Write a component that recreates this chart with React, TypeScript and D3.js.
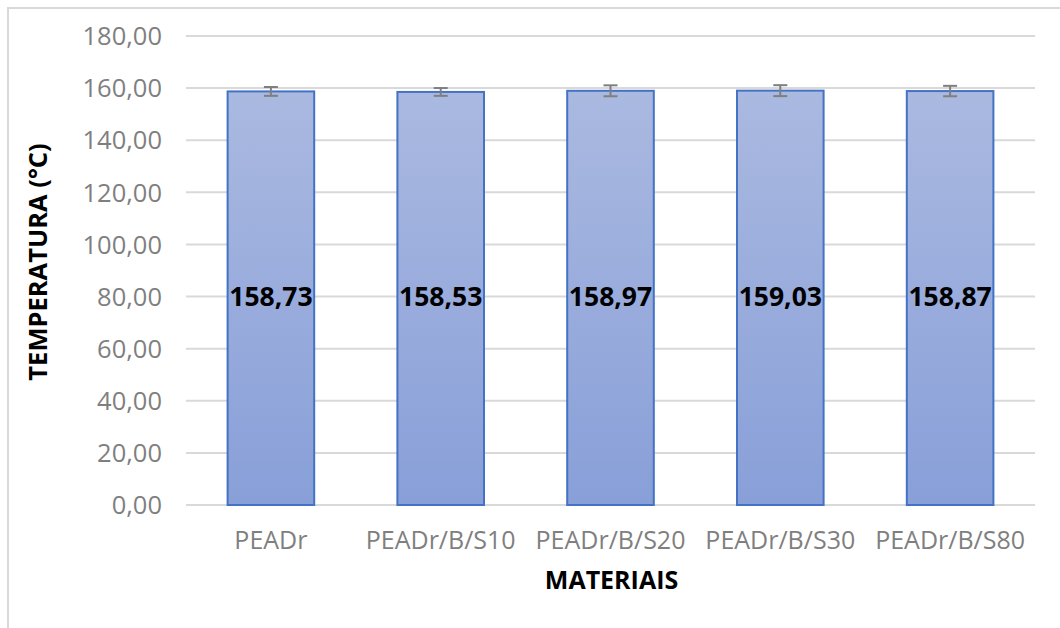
import React from "react";
import * as d3 from "d3";

const categories = ["PEADr", "PEADr/B/S10", "PEADr/B/S20", "PEADr/B/S30", "PEADr/B/S80"];
const values = [158.73, 158.53, 158.97, 159.03, 158.87];
const errors = [1.7, 1.5, 2.1, 2.1, 2.0];
const yTicks = [0, 20, 40, 60, 80, 100, 120, 140, 160, 180];
const yTitle = "TEMPERATURA (°C)";
const xTitle = "MATERIAIS";

const W = 1060, H = 628;
const left = 186, right = 1035, top = 36, bottom = 505;
const font = "'Open Sans', sans-serif";

export default function App() {
  const x = d3.scaleBand<string>().domain(categories).range([left, right]).paddingInner(0.49).paddingOuter(0.245);
  const y = d3.scaleLinear().domain([0, 180]).range([bottom, top]);
  const fmt = (v: number) => v.toFixed(2).replace(".", ",");
  return (
    <svg width={W} height={H} style={{ position: "absolute", left: 0, top: 0 }}>
      <defs>
        <linearGradient id="barGrad" x1="0" y1="0" x2="0" y2="1">
          <stop offset="0%" stopColor="#aab9e0" />
          <stop offset="100%" stopColor="#889fd8" />
        </linearGradient>
      </defs>
      <rect x={0} y={0} width={W} height={H} fill="#fff" />
      <path d={`M8,${H} V8 H${W}`} fill="none" stroke="#d9d9d9" strokeWidth={2} />
      {yTicks.map((t) => (
        <g key={t}>
          <line x1={left} x2={right} y1={y(t)} y2={y(t)} stroke="#d9d9d9" strokeWidth={2} />
          <text x={162} y={y(t)} dy="0.36em" textAnchor="end" fontFamily={font} fontSize={25.5} fill="#7f7f7f">{fmt(t)}</text>
        </g>
      ))}
      {categories.map((c, i) => {
        const bx = x(c)!;
        const bw = x.bandwidth();
        const cx = bx + bw / 2;
        return (
          <g key={c}>
            <rect x={bx} y={y(values[i])} width={bw} height={y(0) - y(values[i])} fill="url(#barGrad)" stroke="#4472c4" strokeWidth={2} />
            <line x1={cx} x2={cx} y1={y(values[i] + errors[i])} y2={y(values[i] - errors[i])} stroke="#7f7f7f" strokeWidth={2} />
            <line x1={cx - 7} x2={cx + 7} y1={y(values[i] + errors[i])} y2={y(values[i] + errors[i])} stroke="#7f7f7f" strokeWidth={2} />
            <line x1={cx - 7} x2={cx + 7} y1={y(values[i] - errors[i])} y2={y(values[i] - errors[i])} stroke="#7f7f7f" strokeWidth={2} />
            <text x={cx} y={y(80)} dy="0.36em" textAnchor="middle" fontFamily={font} fontWeight="bold" fontSize={26.5} fill="#000">{fmt(values[i])}</text>
            <text x={cx} y={549} textAnchor="middle" fontFamily={font} fontSize={25} fill="#7f7f7f">{c}</text>
          </g>
        );
      })}
      <text x={(left + right) / 2 + 1} y={589} textAnchor="middle" fontFamily={font} fontWeight="bold" fontSize={25} fill="#000">{xTitle}</text>
      <text transform={`translate(47,${262}) rotate(-90)`} textAnchor="middle" fontFamily={font} fontWeight="bold" fontSize={25.5} fill="#000">{yTitle}</text>
    </svg>
  );
}
